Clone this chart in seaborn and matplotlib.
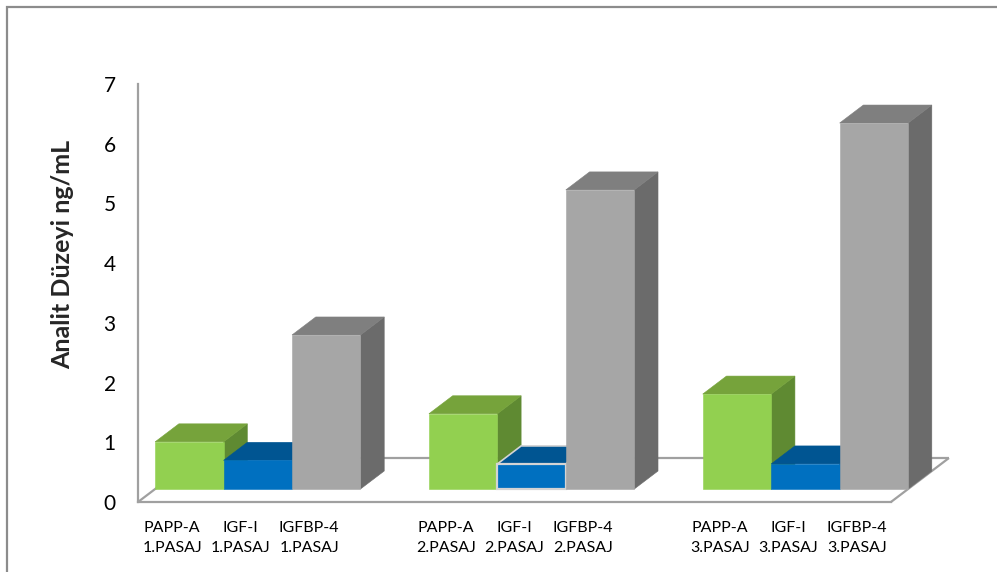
import matplotlib
matplotlib.use("Agg")
import matplotlib.pyplot as plt
from matplotlib.patches import Polygon, Rectangle
from matplotlib.transforms import Affine2D
import seaborn as sns
import pandas as pd

# ---- data -------------------------------------------------------------
analytes = ["PAPP-A", "IGF-I", "IGFBP-4"]
passages = ["1.PASAJ", "2.PASAJ", "3.PASAJ"]
papp_a = [0.79, 1.26, 1.59]
igf_i = [0.48, 0.42, 0.42]
igfbp_4 = [2.58, 5.01, 6.13]
y_ticks = [0, 1, 2, 3, 4, 5, 6, 7]
y_label = "Analit Düzeyi ng/mL"

# ---- colours (front / top / side faces) --------------------------------
front_colors = {"PAPP-A": "#92D050", "IGF-I": "#0070C0", "IGFBP-4": "#A6A6A6"}
top_colors = {"PAPP-A": "#76A33B", "IGF-I": "#005592", "IGFBP-4": "#7F7F7F"}
side_colors = {"PAPP-A": "#5F8A32", "IGF-I": "#00477A", "IGFBP-4": "#6B6B6B"}
axis_gray = "#A0A0A0"

# ---- long-form table with empty spacer slots between passages ----------
series = {"PAPP-A": papp_a, "IGF-I": igf_i, "IGFBP-4": igfbp_4}
rows, order = [], []
for k, pas in enumerate(passages):
    for a in analytes:
        lab = f"{a}\n{pas}"
        rows.append({"etiket": lab, "analit": a, "deger": series[a][k]})
        order.append(lab)
    if k < len(passages) - 1:
        order.append(" " * (k + 1))
df = pd.DataFrame(rows)
analyte_of = dict(zip(df["etiket"], df["analit"]))

sns.set_style("white")
plt.rcParams["font.family"] = ["Lato", "DejaVu Sans"]

W, H = 997, 572
fig = plt.figure(figsize=(W / 100, H / 100), dpi=100)

# axes box in pixels: slot width ~68.45 px, one value unit ~59.7 px
slot_px, unit_px = 68.45, 59.7
ax_left, ax_right, ax_bottom, ax_top = 138, 960, 70, 512
ax = fig.add_axes([ax_left / W, ax_bottom / H,
                   (ax_right - ax_left) / W, (ax_top - ax_bottom) / H])

sns.barplot(data=df, x="etiket", y="deger", hue="analit", order=order,
            palette=front_colors, dodge=False, width=1.0, saturation=1,
            errorbar=None, legend=False, linewidth=0, ax=ax)

n_slots = len(order)
ax.set_xlim(-0.5, -0.5 + (ax_right - ax_left) / slot_px)
ax.set_ylim(0, (ax_top - ax_bottom) / unit_px)

# oblique projection of the floor depth (in data units)
DX = 58 / slot_px
DY = 44 / unit_px
f_front, f_back = 13 / 44, 31 / 44          # bar slab position within the depth
OX, OY = f_front * DX, f_front * DY          # offset of the bar front faces
SX, SY = (f_back - f_front) * DX, (f_back - f_front) * DY

# floor outline (behind the bars)
x_lo, x_hi = -0.5, n_slots - 0.5
floor_kw = dict(color=axis_gray, lw=1.6, zorder=1, clip_on=False,
                solid_capstyle="butt")
ax.plot([x_lo, x_lo + DX], [0, DY], **floor_kw)
ax.plot([x_lo + DX, x_hi + DX], [DY, DY], **floor_kw)
ax.plot([x_hi, x_hi + DX], [0, DY], **floor_kw)

# turn every seaborn bar into a 3-D column
bars = sorted(ax.patches, key=lambda p: p.get_x())
for i, p in enumerate(bars):
    x0, w, h = p.get_x(), p.get_width(), p.get_height()
    lab = order[int(round(x0 + w / 2))]
    a = analyte_of[lab]
    z = 3 + 3 * i
    p.set_transform(Affine2D().translate(OX, OY) + ax.transData)
    p.set_zorder(z + 2)
    p.set_edgecolor(front_colors[a])
    p.set_linewidth(0.4)
    xl, xr, yb, yt = x0 + OX, x0 + w + OX, OY, OY + h
    top = Polygon([(xl, yt), (xr, yt), (xr + SX, yt + SY), (xl + SX, yt + SY)],
                  closed=True, fc=top_colors[a], ec=top_colors[a], lw=0.4,
                  zorder=z + 1)
    side = Polygon([(xr, yb), (xr + SX, yb + SY), (xr + SX, yt + SY), (xr, yt)],
                   closed=True, fc=side_colors[a], ec=side_colors[a], lw=0.4,
                   zorder=z)
    ax.add_patch(side)
    ax.add_patch(top)
    if lab == "IGF-I\n2.PASAJ":
        p.set_edgecolor("#D4D4D4")
        p.set_linewidth(1.6)
        top.set_edgecolor("#D4D4D4")
        top.set_linewidth(1.2)

# axes: value axis at the front-left corner, category axis on the floor edge
for s in ("top", "right"):
    ax.spines[s].set_visible(False)
for s in ("left", "bottom"):
    ax.spines[s].set_color(axis_gray)
    ax.spines[s].set_linewidth(1.6)
ax.spines["left"].set_bounds(0, 7)
ax.spines["bottom"].set_bounds(x_lo, x_hi)

ax.set_yticks(y_ticks)
ax.set_yticklabels([str(t) for t in y_ticks])
ax.tick_params(axis="y", direction="out", length=7, width=1.4,
               color=axis_gray, labelsize=15, pad=9, labelcolor="black")

bounds = [b - 0.5 for b in range(n_slots + 1)]
centers = list(range(n_slots))
ax.set_xticks(bounds)
ax.set_xticklabels([""] * len(bounds))
ax.set_xticks(centers, minor=True)
ax.set_xticklabels([lab.strip() for lab in order], minor=True)
ax.tick_params(axis="x", which="major", direction="out", length=7,
               width=1.4, color=axis_gray)
ax.tick_params(axis="x", which="minor", length=0, labelsize=11.5, pad=14,
               labelcolor="black")
for t in ax.get_xticklabels(minor=True):
    t.set_linespacing(1.55)

ax.set_xlabel("")
ax.set_ylabel(y_label, fontsize=18, fontweight="bold", va="center")
ax.yaxis.set_label_coords((63 - ax_left) / (ax_right - ax_left),
                          ((H - 254) - ax_bottom) / (ax_top - ax_bottom))
ax.set_facecolor("none")

# chart-area frame
fig.add_artist(Rectangle((7 / W, -0.05), 1.1, 1.05 - 6.5 / H,
                         transform=fig.transFigure, fill=False,
                         ec="#8C8C8C", lw=1.6))

fig.savefig("out.png", dpi=100, facecolor="white")
